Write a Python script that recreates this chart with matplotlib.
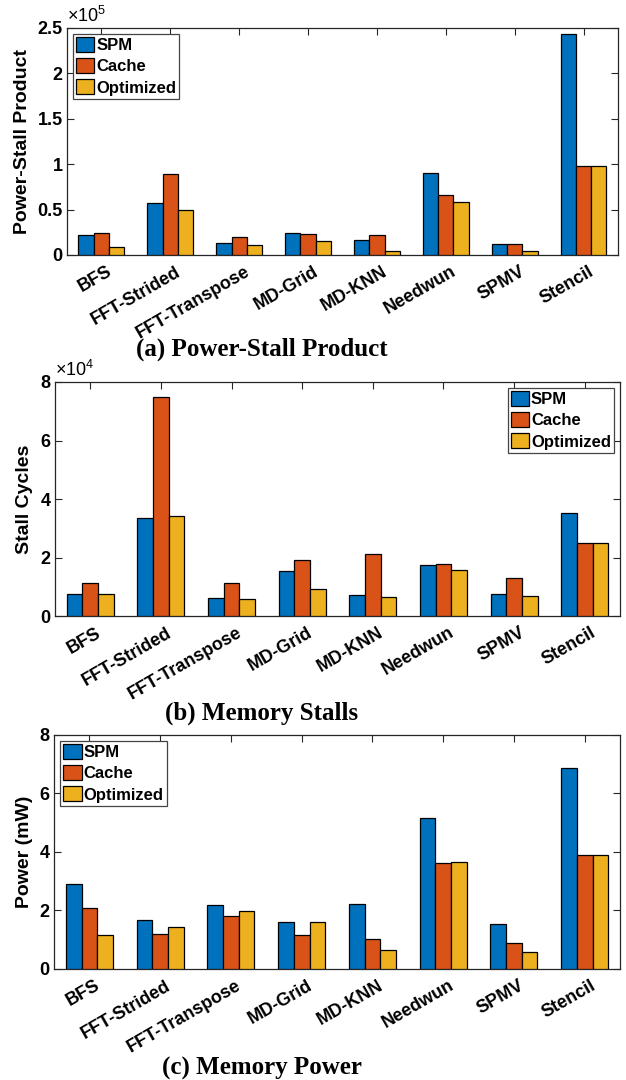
import matplotlib
matplotlib.use('Agg')
import matplotlib.pyplot as plt
import numpy as np
from matplotlib.ticker import FuncFormatter, MultipleLocator
import matplotlib.transforms as mtransforms

# benchmarks and configurations
benchmarks = ['BFS', 'FFT-Strided', 'FFT-Transpose', 'MD-Grid', 'MD-KNN', 'Needwun', 'SPMV', 'Stencil']
configs = ['SPM', 'Cache', 'Optimized']

# (a) power-stall product
psp_spm = [22000, 57000, 13600, 24600, 17000, 90400, 11800, 243000]
psp_cache = [24000, 89000, 20000, 22800, 21700, 66000, 11800, 97800]
psp_opt = [9000, 50000, 11000, 15400, 4800, 58000, 4800, 97800]

# (b) stall cycles
stall_spm = [7700, 33400, 6100, 15300, 7300, 17500, 7700, 35200]
stall_cache = [11300, 74900, 11300, 19300, 21100, 17900, 12900, 25000]
stall_opt = [7700, 34300, 5700, 9400, 6600, 15800, 7000, 25000]

# (c) memory power (mW)
pow_spm = [2.91, 1.69, 2.19, 1.59, 2.23, 5.17, 1.54, 6.88]
pow_cache = [2.08, 1.18, 1.81, 1.17, 1.02, 3.63, 0.88, 3.89]
pow_opt = [1.15, 1.43, 1.97, 1.59, 0.64, 3.66, 0.58, 3.89]

colors = ['#0072BD', '#D95319', '#EDB120']
sans = 'Liberation Sans'
serif = 'Liberation Serif'
plt.rcParams['mathtext.fontset'] = 'custom'
plt.rcParams['mathtext.rm'] = sans
plt.rcParams['mathtext.it'] = sans

fig = plt.figure(figsize=(6.26, 10.8), dpi=100)

ax1 = fig.add_axes([0.1070, 0.7639, 0.8802, 0.2102])
ax2 = fig.add_axes([0.0879, 0.4296, 0.9026, 0.2167])
ax3 = fig.add_axes([0.0863, 0.1028, 0.9042, 0.2167])

panels = [
    (ax1, [psp_spm, psp_cache, psp_opt], 'Power-Stall Product', 2.5e5, 0.5e5, 1e5, '5', 'upper left', -0.065),
    (ax2, [stall_spm, stall_cache, stall_opt], 'Stall Cycles', 8e4, 2e4, 1e4, '4', 'upper right', -0.039),
    (ax3, [pow_spm, pow_cache, pow_opt], 'Power (mW)', 8, 2, 1, None, 'upper left', -0.037),
]

x = np.arange(1, len(benchmarks) + 1)
bw = 0.222

for ax, series, ylab, ymax, ystep, scale, expo, legloc, labx in panels:
    for i, vals in enumerate(series):
        ax.bar(x + (i - 1) * bw, vals, bw, color=colors[i], edgecolor='black',
               linewidth=0.9, label=configs[i], zorder=3)
    ax.set_xlim(0.5, 8.5)
    ax.set_ylim(0, ymax)
    ax.yaxis.set_major_locator(MultipleLocator(ystep))
    ax.yaxis.set_major_formatter(FuncFormatter(lambda v, p, s=scale: f'{v / s:g}'))
    ax.tick_params(direction='in', length=5, width=0.8, color='#262626',
                   top=True, right=True, pad=3)
    ax.set_xticks(x)
    ax.set_xticklabels(benchmarks, rotation=30, ha='right', va='top', rotation_mode='anchor',
                       fontsize=13, fontweight='bold', family=sans)
    for lbl in ax.get_yticklabels():
        lbl.set_fontsize(13)
        lbl.set_fontweight('bold')
        lbl.set_family(sans)
    for sp in ax.spines.values():
        sp.set_linewidth(0.9)
        sp.set_color('#262626')
    ax.set_ylabel(ylab, fontsize=14, fontweight='bold', family=sans)
    ax.yaxis.set_label_coords(labx, 0.5)
    if expo:
        ax.text(0.0, 1.01, r'$\times10^{' + expo + '}$', transform=ax.transAxes,
                fontsize=13, ha='left', va='bottom')
    leg = ax.legend(loc=legloc, prop={'family': sans, 'weight': 'bold', 'size': 12},
                    fancybox=False, framealpha=1, edgecolor='#444444',
                    handlelength=1.1, handleheight=1.0, handletextpad=0.1,
                    labelspacing=0.3, borderpad=0.2, borderaxespad=0.35)
    leg.get_frame().set_linewidth(0.9)
    # nudge rotated labels right and down, like MATLAB does
    offset = mtransforms.ScaledTranslation(5 / 100, -4 / 100, fig.dpi_scale_trans)
    for lbl in ax.get_xticklabels():
        lbl.set_transform(lbl.get_transform() + offset)

fig.text(262 / 626, 1 - 349 / 1080, '(a) Power-Stall Product', ha='center', va='center',
         fontsize=18, fontweight='bold', family=serif)
fig.text(262 / 626, 1 - 713 / 1080, '(b) Memory Stalls', ha='center', va='center',
         fontsize=18, fontweight='bold', family=serif)
fig.text(262 / 626, 1 - 1068 / 1080, '(c) Memory Power', ha='center', va='center',
         fontsize=18, fontweight='bold', family=serif)

plt.savefig('out.png', dpi=100)
